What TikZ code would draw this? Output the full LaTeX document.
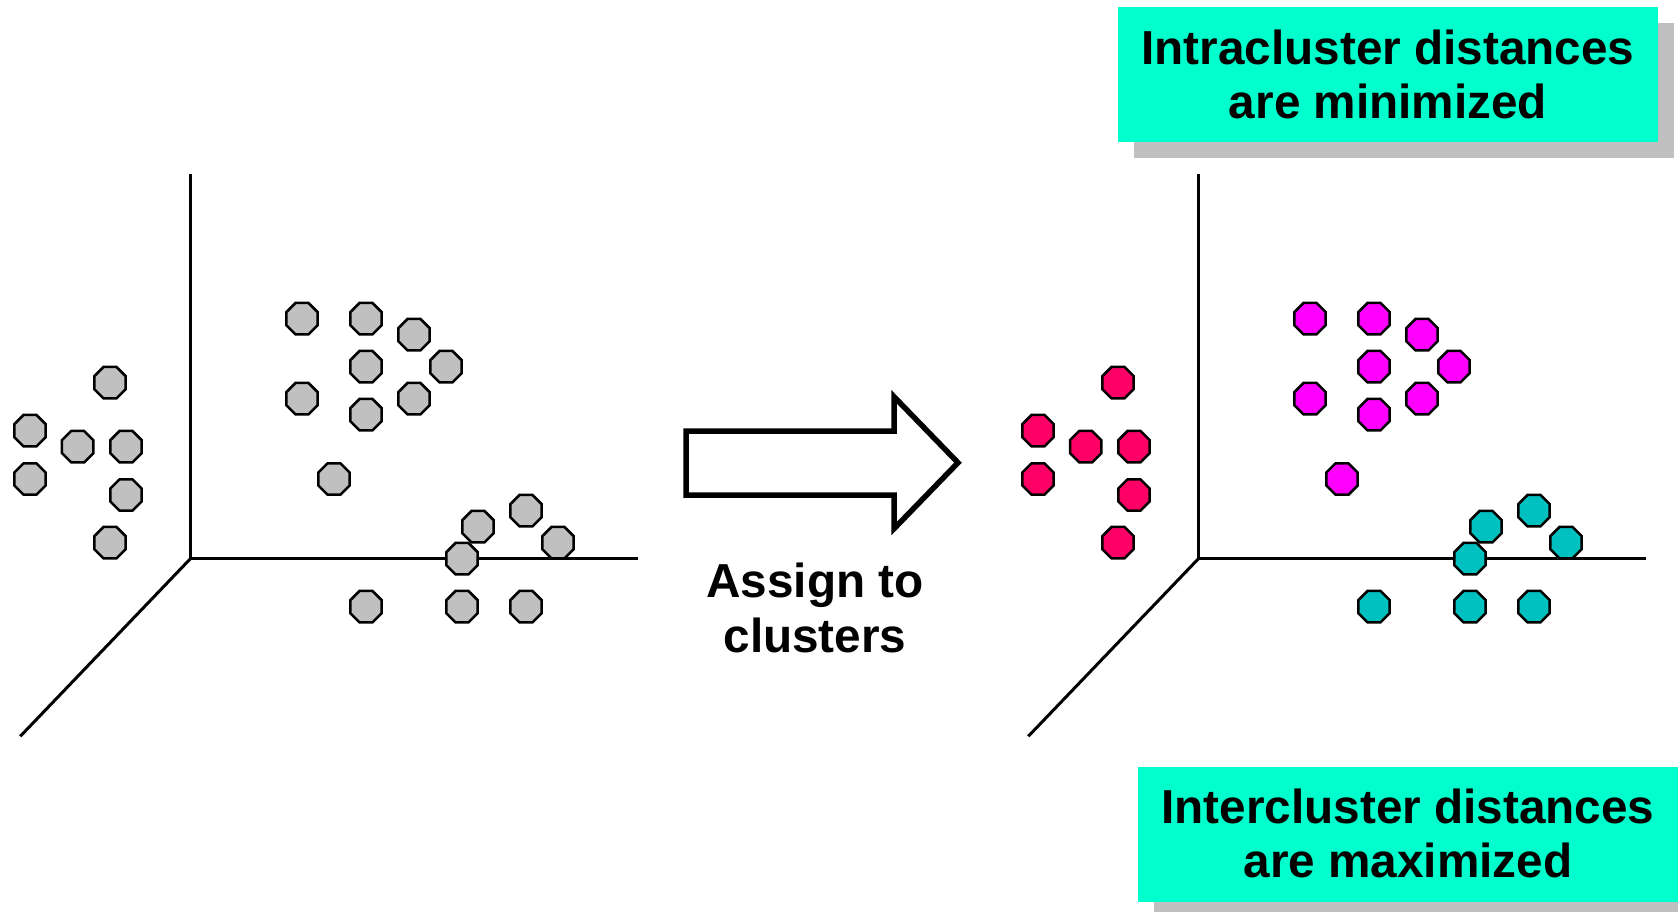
\documentclass[tikz,border=0pt]{standalone}
\usepackage{fontspec}
\setmainfont{Liberation Sans}
\usetikzlibrary{shapes.geometric}
\definecolor{ptgray}{HTML}{C0C0C0}
\definecolor{notebox}{HTML}{00FFCC}
\definecolor{shadowgray}{HTML}{C0C0C0}
\definecolor{ptred}{HTML}{FF0066}
\definecolor{ptmag}{HTML}{FF00FF}
\definecolor{ptteal}{HTML}{00C0C0}
\tikzset{
  pt/.style={regular polygon, regular polygon sides=8, minimum size=34pt,
    inner sep=0pt, draw=black, line width=2.5pt},
  axis/.style={line width=3pt, black},
  bigarrow/.style={line width=5.5pt, black, line join=miter, fill=white},
  bigtext/.style={font=\fontsize{47.7}{54.6}\selectfont\bfseries, align=center, inner sep=0pt},
  notefill/.style={fill=notebox, draw=none},
  noteshadow/.style={fill=shadowgray, draw=none}
}
\begin{document}
\begin{tikzpicture}[x=1pt, y=-1pt]
\useasboundingbox (0,0) rectangle (1678,912);
\clip (0,0) rectangle (1678,912);

% ---- left: unlabelled points ----
\coordinate (lo) at (190.5,558.6);
\coordinate (ltop) at (190.5,174.5);
\coordinate (lright) at (637.8,558.6);
\coordinate (ldiag) at (20.3,736.3);
\draw[axis] (ltop) -- (lo) -- (lright);
\draw[axis] (lo) -- (ldiag);

\foreach \x/\y [count=\i] in {110/382.7,30/430.7,77.7/446.7,126/446.7,30/479,126/495,110/542.7}
  \node[pt, fill=ptgray] (la\i) at (\x,\y) {};
\foreach \x/\y [count=\i] in {302/318.7,366/318.7,414/334.7,366/366.7,446/366.7,302/398.7,414/398.7,366/414.7,334/479}
  \node[pt, fill=ptgray] (lb\i) at (\x,\y) {};
\foreach \x/\y [count=\i] in {526/510.7,478/526.7,558/542.7,462/558.7,366/606.7,462/606.7,526/606.7}
  \node[pt, fill=ptgray] (lc\i) at (\x,\y) {};

% ---- arrow and caption ----
\draw[bigarrow] (686,431) -- (894,431) -- (894,396.7) -- (958,462.7)
  -- (894,528.7) -- (894,495) -- (686,495) -- cycle;
\node[bigtext] (assign) at (815,608) {Assign to\\clusters};

% ---- right: clustered points ----
\begin{scope}[xshift=1008pt]
\coordinate (ro) at (190.5,558.6);
\coordinate (rtop) at (190.5,174.5);
\coordinate (rright) at (637.8,558.6);
\coordinate (rdiag) at (20.3,736.3);
\draw[axis] (rtop) -- (ro) -- (rright);
\draw[axis] (ro) -- (rdiag);

\foreach \x/\y [count=\i] in {110/382.7,30/430.7,77.7/446.7,126/446.7,30/479,126/495,110/542.7}
  \node[pt, fill=ptred] (ra\i) at (\x,\y) {};
\foreach \x/\y [count=\i] in {302/318.7,366/318.7,414/334.7,366/366.7,446/366.7,302/398.7,414/398.7,366/414.7,334/479}
  \node[pt, fill=ptmag] (rb\i) at (\x,\y) {};
\foreach \x/\y [count=\i] in {526/510.7,478/526.7,558/542.7,462/558.7,366/606.7,462/606.7,526/606.7}
  \node[pt, fill=ptteal] (rc\i) at (\x,\y) {};
\end{scope}

% ---- note boxes with drop shadows ----
\fill[noteshadow] (1134,23.5) rectangle (1674,158);
\fill[notefill] (1118,7.5) rectangle (1658,142);
\node[bigtext] (intra) at (1388,74.5) {Intracluster distances\\are minimized};

\fill[noteshadow] (1153.6,783) rectangle (1694,918);
\fill[notefill] (1137.6,767) rectangle (1678,902);
\node[bigtext] (inter) at (1408,833.5) {Intercluster distances\\are maximized};
\end{tikzpicture}
\end{document}
